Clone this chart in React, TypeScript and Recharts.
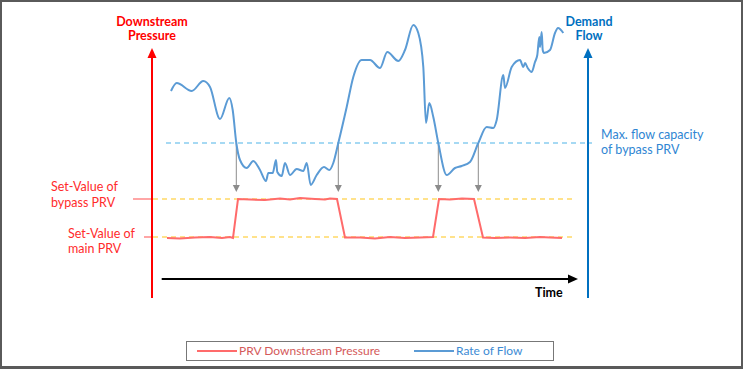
import { Legend, Line, LineChart, ReferenceLine, XAxis, YAxis } from "recharts";

// time runs 0..436 between the two vertical axes, values are on a 0..280 scale
const flowTime = [
  19, 24.7, 39.7, 51.3, 58, 68, 77.3, 80.7, 84.3, 88, 94.7, 101.3, 108, 114, 116.3, 120.7, 124, 125.3,
  129.7, 133, 138, 144.7, 151.3, 154.7, 158.7, 164.7, 172, 177.3, 181.3, 186.3, 194.7, 201.3, 209.7, 218,
  228, 235.3, 246.3, 253, 261.3, 266.3, 271.3, 274, 277.3, 281.3, 286.3, 294.7, 303, 309.7, 318, 326.3,
  334.7, 341.3, 344.7, 351.3, 353, 359.7, 368, 371.3, 373, 375.7, 379.7, 383, 385.3, 387.3, 388, 389.7,
  390.7, 392, 398, 403, 406, 411.3,
];
const flowRate = [
  207, 215, 207, 217, 211, 179, 200, 188, 155, 138, 130, 137, 128, 117, 125, 125, 138, 126,
  122, 135, 123, 129, 127, 135, 113, 123, 131, 128, 135, 155, 191, 221, 238, 238,
  230, 246, 237, 248, 273, 265, 231, 175, 195, 181, 155, 123, 130, 132, 136, 155,
  171, 170, 178, 223, 210, 231, 238, 231, 235, 230, 226, 236, 243, 261, 251, 266,
  248, 245, 248, 265, 270, 265,
];

const pressureTime = [
  15, 28, 43, 58, 70, 78, 81, 86, 98, 113, 128, 138, 148, 163, 173, 178, 185, 193, 208, 223, 238, 253,
  268, 281, 287, 298, 310, 322, 331, 343, 358, 373, 388, 398, 410,
];
const pressureValue = [
  60, 59.5, 60.5, 61, 60, 61, 60, 99, 98.5, 98, 99.5, 98.5, 100, 99, 98.5, 99.5, 99, 60.5, 60.5, 59.5, 61, 60,
  60.5, 61, 99, 98.5, 99.5, 99, 60.5, 60, 60.5, 60, 61, 60.5, 60,
];

const mainSetValue = 61;
const bypassSetValue = 99;
const bypassCapacity = 155;
const switchTimes = [84.3, 186.3, 286.3, 326.3];

const flowData = flowTime.map((t, i) => ({ t, flow: flowRate[i] }));
const pressureData = pressureTime.map((t, i) => ({ t, pressure: pressureValue[i] }));

const RED = "#ff6b6b";
const BLUE = "#5b9bd5";
const FONT = "Lato, 'Noto Sans', sans-serif";

function arrowShape(color: string, width: number, len: number, half: number) {
  return (props: any) => {
    const { x1, y1, x2, y2 } = props;
    const dx = x2 - x1;
    const dy = y2 - y1;
    const d = Math.hypot(dx, dy) || 1;
    const ux = dx / d;
    const uy = dy / d;
    const bx = x2 - ux * len;
    const by = y2 - uy * len;
    const px = -uy * half;
    const py = ux * half;
    return (
      <g>
        <line x1={x1} y1={y1} x2={bx} y2={by} stroke={color} strokeWidth={width} />
        <polygon points={`${x2},${y2} ${bx + px},${by + py} ${bx - px},${by - py}`} fill={color} />
      </g>
    );
  };
}

const legendLeft = [10, 227];
const legendText = ["#d45a5a", "#3d8bd4"];

function LegendBox({ payload }: any) {
  return (
    <div
      style={{
        position: "relative",
        width: 368,
        height: 20,
        boxSizing: "border-box",
        border: "1.5px solid #777",
        fontFamily: FONT,
        fontSize: 12,
      }}
    >
      {(payload || []).map((entry: any, i: number) => (
        <div
          key={entry.value}
          style={{ position: "absolute", left: legendLeft[i], top: 0, height: 17, display: "flex", alignItems: "center" }}
        >
          <span style={{ display: "inline-block", width: 40, height: 2, background: entry.color, marginRight: 2 }} />
          <span style={{ color: legendText[i] }}>{entry.value}</span>
        </div>
      ))}
    </div>
  );
}

const text = (style: React.CSSProperties) => ({
  position: "absolute" as const,
  fontFamily: FONT,
  whiteSpace: "nowrap" as const,
  ...style,
});

export default function App() {
  return (
    <div style={{ position: "absolute", left: 0, top: 0, width: 743, height: 369, background: "#fff" }}>
      <LineChart
        width={743}
        height={369}
        margin={{ top: 18, right: 155, bottom: 71, left: 152 }}
      >
        <XAxis dataKey="t" type="number" domain={[0, 436]} hide />
        <YAxis yAxisId="pressure" type="number" domain={[0, 280]} hide />
        <YAxis yAxisId="flow" orientation="right" type="number" domain={[0, 280]} hide />

        <ReferenceLine
          yAxisId="pressure"
          segment={[{ x: 1, y: bypassSetValue }, { x: 423, y: bypassSetValue }]}
          stroke="#ffd966"
          strokeWidth={1.5}
          strokeDasharray="5 4"
        />
        <ReferenceLine
          yAxisId="pressure"
          segment={[{ x: 1, y: mainSetValue }, { x: 423, y: mainSetValue }]}
          stroke="#ffd966"
          strokeWidth={1.5}
          strokeDasharray="5 4"
        />
        <ReferenceLine
          yAxisId="pressure"
          ifOverflow="visible"
          segment={[{ x: -19, y: bypassSetValue }, { x: 0, y: bypassSetValue }]}
          stroke={RED}
          strokeWidth={1.2}
        />
        <ReferenceLine
          yAxisId="pressure"
          ifOverflow="visible"
          segment={[{ x: -8, y: mainSetValue }, { x: 0, y: mainSetValue }]}
          stroke={RED}
          strokeWidth={1.2}
        />
        <ReferenceLine
          yAxisId="flow"
          ifOverflow="visible"
          segment={[{ x: 14, y: bypassCapacity }, { x: 440, y: bypassCapacity }]}
          stroke="#4fb3e8"
          strokeWidth={1.2}
          strokeDasharray="5 4"
        />
        {switchTimes.map((t) => (
          <ReferenceLine
            key={t}
            yAxisId="flow"
            segment={[{ x: t, y: bypassCapacity }, { x: t, y: 106 }]}
            shape={arrowShape("#8c8c8c", 1, 7, 3.5)}
          />
        ))}

        <Line
          yAxisId="pressure"
          data={pressureData}
          dataKey="pressure"
          name="PRV Downstream Pressure"
          type="linear"
          stroke={RED}
          strokeWidth={2}
          dot={false}
          isAnimationActive={false}
        />
        <Line
          yAxisId="flow"
          data={flowData}
          dataKey="flow"
          name="Rate of Flow"
          type="monotone"
          stroke={BLUE}
          strokeWidth={2}
          dot={false}
          isAnimationActive={false}
        />

        <ReferenceLine
          yAxisId="pressure"
          segment={[{ x: 0, y: 0 }, { x: 0, y: 250 }]}
          shape={arrowShape("#ff0000", 2, 10, 4.5)}
        />
        <ReferenceLine
          yAxisId="flow"
          segment={[{ x: 436, y: 0 }, { x: 436, y: 250 }]}
          shape={arrowShape("#0070c0", 2, 10, 4.5)}
        />
        <ReferenceLine
          yAxisId="flow"
          segment={[{ x: 9.7, y: 19 }, { x: 426, y: 19 }]}
          shape={arrowShape("#000000", 2, 10, 4.5)}
        />

        <Legend
          layout="vertical"
          align="center"
          verticalAlign="middle"
          content={<LegendBox />}
          wrapperStyle={{ left: 186, top: 341, bottom: "auto", width: 368, height: 20, margin: 0 }}
        />
      </LineChart>

      <div style={text({ left: 92, top: 14.7, width: 120, textAlign: "center", lineHeight: "14px", fontSize: 12.5, fontWeight: 700, color: "#ff0000" })}>
        Downstream
        <br />
        Pressure
      </div>
      <div style={text({ left: 529, top: 14.7, width: 120, textAlign: "center", lineHeight: "14px", fontSize: 12.5, fontWeight: 700, color: "#0070c0" })}>
        Demand
        <br />
        Flow
      </div>
      <div style={text({ left: 535, top: 285, lineHeight: "16px", fontSize: 12.5, fontWeight: 700, color: "#000" })}>Time</div>
      <div style={text({ left: 51, top: 179, lineHeight: "16px", fontSize: 12.5, color: "#ff2b2b" })}>
        Set-Value of
        <br />
        bypass PRV
      </div>
      <div style={text({ left: 68, top: 225.5, lineHeight: "15px", fontSize: 12.5, color: "#ff2b2b" })}>
        Set-Value of
        <br />
        main PRV
      </div>
      <div style={text({ left: 601, top: 126.5, lineHeight: "15px", fontSize: 12.5, color: "#2f86d3" })}>
        Max. flow capacity
        <br />
        of bypass PRV
      </div>

      <div
        style={{
          position: "absolute",
          left: 0,
          top: 0,
          width: 743,
          height: 369,
          boxSizing: "border-box",
          borderStyle: "solid",
          borderColor: "#5a5a5a",
          borderWidth: "2px 2px 3px 2px",
          pointerEvents: "none",
        }}
      />
    </div>
  );
}
